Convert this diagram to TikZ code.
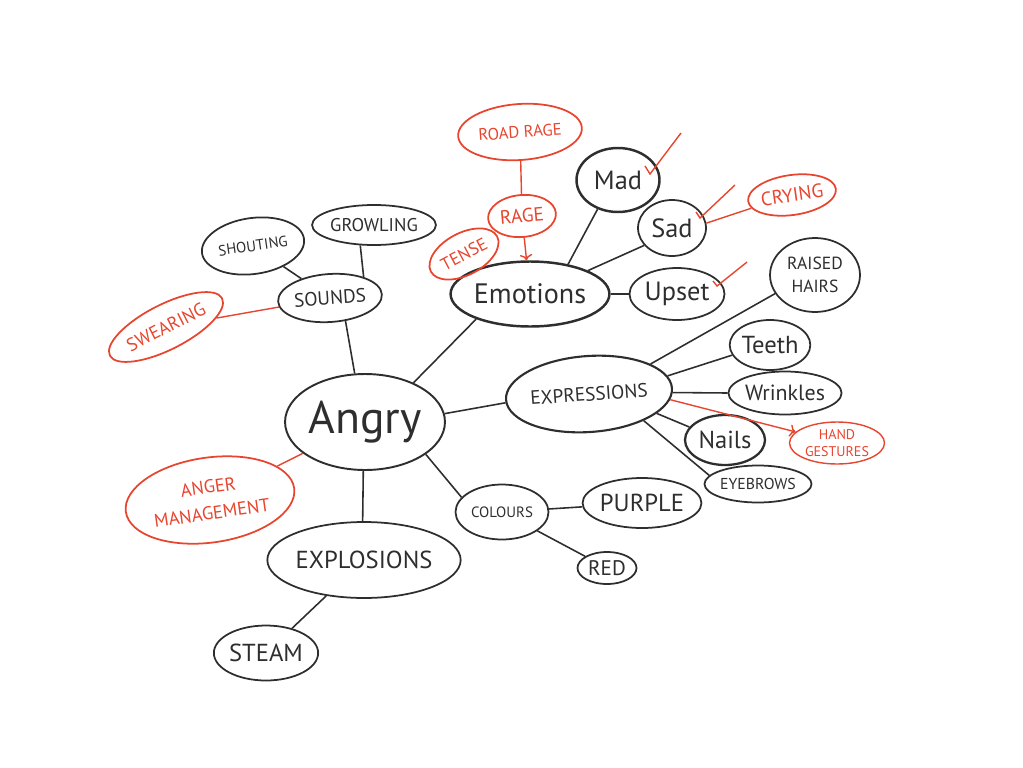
\documentclass[tikz,border=0pt]{standalone}
\usepackage{fontspec}
\setmainfont{PT Sans}
\usepackage{xcolor}
\usepackage{tikz}
\usetikzlibrary{shapes,arrows,positioning,calc,arrows.meta}
\definecolor{ink}{HTML}{2E2E2E}
\definecolor{redpen}{HTML}{E8452F}

\begin{document}
\begin{tikzpicture}[x=0.02cm,y=-0.02cm,
    bub/.style={draw=ink, ellipse, line width=1pt, inner sep=0pt, text=ink},
    rbub/.style={bub, draw=redpen, text=redpen},
    link/.style={draw=ink, line width=0.9pt},
    rlink/.style={draw=redpen, line width=0.8pt}]
    \useasboundingbox (0,0) rectangle (1023,767);

    % centre and main branches
    \node[bub, line width=1.1pt, minimum width=2.92cm, minimum height=1.92cm, font=\fontsize{26}{28}\selectfont] (angry) at (365,422) {Angry};
    \node[bub, line width=1.4pt, minimum width=2.88cm, minimum height=1.30cm, font=\fontsize{16}{18}\selectfont] (emotions) at (530,294) {Emotions};
    \node[bub, line width=1.2pt, minimum width=3.16cm, minimum height=1.52cm, rotate=4, font=\fontsize{11}{13}\selectfont] (expressions) at (589,394) {EXPRESSIONS};
    \node[bub, minimum width=2.08cm, minimum height=0.96cm, rotate=4, font=\fontsize{11}{13}\selectfont] (sounds) at (330,298) {SOUNDS};
    \node[bub, minimum width=1.86cm, minimum height=1.10cm, font=\fontsize{8.5}{10}\selectfont] (colours) at (502,512) {COLOURS};
    \node[bub, minimum width=3.66cm, minimum height=1.52cm, font=\fontsize{14}{16}\selectfont] (explosions) at (364,560) {EXPLOSIONS};
    \node[rbub, minimum width=3.40cm, minimum height=1.70cm, rotate=8, align=center, font=\fontsize{10.5}{15}\selectfont] (anger) at (210,500) {ANGER\\MANAGEMENT};

    % sounds
    \node[bub, minimum width=2.06cm, minimum height=1.12cm, rotate=8, font=\fontsize{8.5}{10}\selectfont] (shouting) at (253,246) {SHOUTING};
    \node[bub, minimum width=2.30cm, minimum height=0.80cm, font=\fontsize{10.5}{12}\selectfont] (growling) at (374,225) {GROWLING};
    \node[rbub, minimum width=2.52cm, minimum height=0.90cm, rotate=27, font=\fontsize{10.5}{12}\selectfont] (swearing) at (166,327) {SWEARING};

    % emotions
    \node[rbub, minimum width=2.48cm, minimum height=1.12cm, rotate=4, font=\fontsize{9.5}{11}\selectfont] (roadrage) at (520,132) {ROAD RAGE};
    \node[rbub, minimum width=1.36cm, minimum height=0.84cm, rotate=5, font=\fontsize{11}{13}\selectfont] (rage) at (522,216) {RAGE};
    \node[rbub, minimum width=1.50cm, minimum height=0.84cm, rotate=28, font=\fontsize{10}{12}\selectfont] (tense) at (464,254) {TENSE};
    \node[bub, line width=1.4pt, minimum width=1.66cm, minimum height=1.28cm, font=\fontsize{15}{17}\selectfont] (mad) at (618,180) {Mad};
    \node[bub, minimum width=1.36cm, minimum height=1.12cm, font=\fontsize{15}{17}\selectfont] (sad) at (672,228) {Sad};
    \node[bub, minimum width=1.90cm, minimum height=1.04cm, font=\fontsize{15}{17}\selectfont] (upset) at (677,294) {Upset};
    \node[rbub, minimum width=1.70cm, minimum height=0.80cm, rotate=8, font=\fontsize{11}{13}\selectfont] (crying) at (792,195) {CRYING};

    % expressions
    \node[bub, minimum width=1.80cm, minimum height=1.48cm, align=center, font=\fontsize{10}{13}\selectfont] (raised) at (815,275) {RAISED\\HAIRS};
    \node[bub, minimum width=1.60cm, minimum height=1.00cm, font=\fontsize{14}{16}\selectfont] (teeth) at (770,345) {Teeth};
    \node[bub, minimum width=2.08cm, minimum height=0.86cm, font=\fontsize{12.5}{14}\selectfont] (wrinkles) at (785,393) {Wrinkles};
    \node[bub, line width=1.3pt, minimum width=1.60cm, minimum height=1.00cm, font=\fontsize{14}{16}\selectfont] (nails) at (725,440) {Nails};
    \node[rbub, line width=0.8pt, minimum width=1.90cm, minimum height=0.84cm, align=center, font=\fontsize{8}{10}\selectfont] (hand) at (837,443) {HAND\\GESTURES};
    \node[bub, minimum width=2.10cm, minimum height=0.74cm, font=\fontsize{9}{11}\selectfont] (eyebrows) at (758,484) {EYEBROWS};

    % colours and explosions
    \node[bub, minimum width=2.20cm, minimum height=1.00cm, font=\fontsize{14}{16}\selectfont] (purple) at (642,503) {PURPLE};
    \node[bub, minimum width=1.18cm, minimum height=0.64cm, font=\fontsize{12}{14}\selectfont] (red) at (607,568) {RED};
    \node[bub, minimum width=2.04cm, minimum height=1.10cm, font=\fontsize{14}{16}\selectfont] (steam) at (266,653) {STEAM};

    % black branches
    \draw[link] (angry.102) -- (sounds.-60);
    \draw[link] (angry.39) -- (emotions.205);
    \draw[link] (angry.6) -- (expressions.182);
    \draw[link] (angry.-28) -- (colours.160);
    \draw[link] (angry.-92) -- (explosions.92);
    \draw[link] (sounds) -- (shouting);
    \draw[link] (sounds.28) -- (growling.-124);
    \draw[link] (explosions) -- (steam);
    \draw[link] (colours) -- (purple);
    \draw[link] (colours) -- (red);
    \draw[link] (emotions.38) -- (mad.235);
    \draw[link] (emotions.22) -- (sad.212);
    \draw[link] (emotions.east) -- (upset.west);
    \draw[link] (expressions.22) -- (raised.205);
    \draw[link] (expressions.9) -- (teeth.195);
    \draw[link] (expressions.-3) -- (wrinkles.west);
    \draw[link] (expressions.-20) -- (nails.160);
    \draw[link] (expressions.-30) -- (eyebrows.170);

    % red additions
    \draw[rlink] (angry) -- (anger);
    \draw[rlink] (sounds) -- (swearing);
    \draw[rlink] (roadrage) -- (rage);
    \draw[rlink, ->] (rage) -- (emotions);
    \draw[rlink] (tense) -- (emotions);
    \draw[rlink, ->] (expressions.-8) -- (hand.165);

    % ticks
    \coordinate (madtick) at (681,133);
    \coordinate (sadtick) at (735,185);
    \coordinate (upsettick) at (747,262);
    \draw[rlink] (645,166) -- (650,174) -- (madtick);
    \draw[rlink] (696,212) -- (700,218) -- (sadtick);
    \draw[rlink] (sad.8) -- (crying.190);
    \draw[rlink] (713,281) -- (717,286) -- (upsettick);
\end{tikzpicture}
\end{document}
